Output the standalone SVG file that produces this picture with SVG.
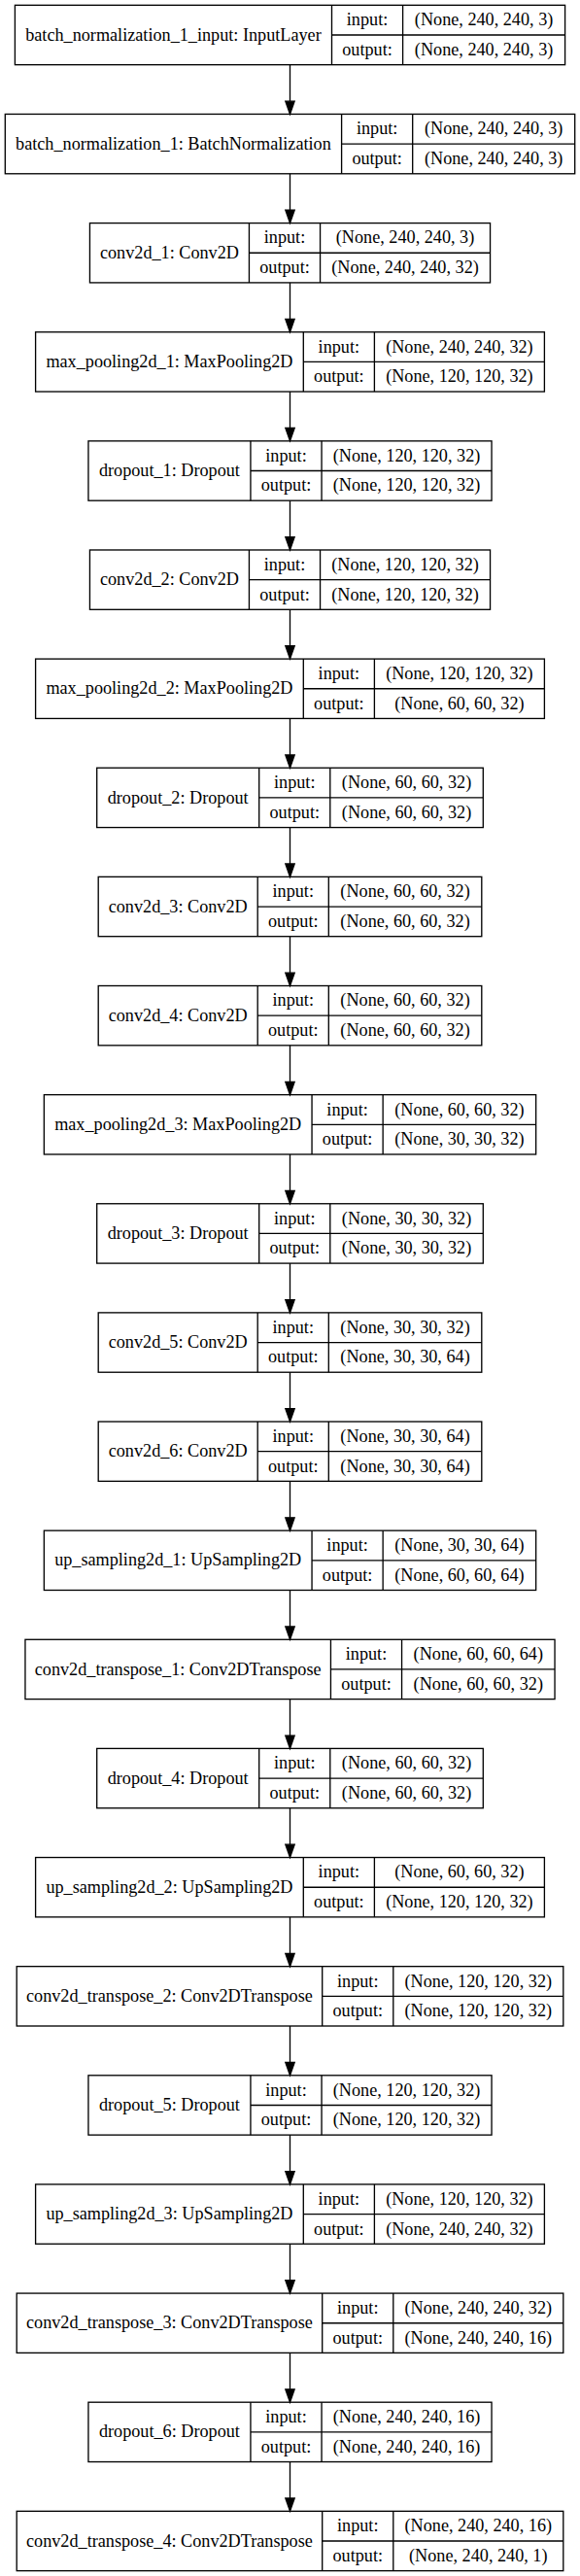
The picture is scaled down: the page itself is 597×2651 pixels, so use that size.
<svg xmlns="http://www.w3.org/2000/svg" width="597" height="2651" viewBox="0 0 597 2651">
<style>
.b{fill:none;stroke:#000;stroke-width:1.33}
text{font-family:"Liberation Serif","Times New Roman",serif;font-size:18.2px;text-anchor:middle;fill:#000}
.e{fill:none;stroke:#000;stroke-width:1.33;marker-end:url(#ah)}
</style>
<defs>
<marker id="ah" markerUnits="userSpaceOnUse" orient="auto" refX="0" refY="0" overflow="visible"><path d="M0,-4.67 L13.33,0 L0,4.67 Z" fill="#000" stroke="#000" stroke-width="1.33"/></marker>
</defs>
<rect width="597" height="2651" fill="#fff"/>
<g id="edges">
<path class="e" d="M298.5,66.66V104.13"/>
<path class="e" d="M298.5,178.79V216.26"/>
<path class="e" d="M298.5,290.92V328.39"/>
<path class="e" d="M298.5,403.05V440.52"/>
<path class="e" d="M298.5,515.18V552.65"/>
<path class="e" d="M298.5,627.31V664.78"/>
<path class="e" d="M298.5,739.44V776.91"/>
<path class="e" d="M298.5,851.57V889.04"/>
<path class="e" d="M298.5,963.7V1001.17"/>
<path class="e" d="M298.5,1075.83V1113.3"/>
<path class="e" d="M298.5,1187.96V1225.43"/>
<path class="e" d="M298.5,1300.09V1337.56"/>
<path class="e" d="M298.5,1412.22V1449.69"/>
<path class="e" d="M298.5,1524.35V1561.82"/>
<path class="e" d="M298.5,1636.48V1673.95"/>
<path class="e" d="M298.5,1748.61V1786.08"/>
<path class="e" d="M298.5,1860.74V1898.21"/>
<path class="e" d="M298.5,1972.87V2010.34"/>
<path class="e" d="M298.5,2085V2122.47"/>
<path class="e" d="M298.5,2197.13V2234.6"/>
<path class="e" d="M298.5,2309.26V2346.73"/>
<path class="e" d="M298.5,2421.39V2458.86"/>
<path class="e" d="M298.5,2533.52V2570.99"/>
</g>
<g id="n0" transform="translate(0,5.33)"><rect class="b" x="15.4" y="0" width="566.2" height="61.33"/><path class="b" d="M341.5,0V61.33M414.6,0V61.33M341.5,30.67H581.6"/><text x="178.45" y="36.3">batch_normalization_1_input: InputLayer</text><text x="378.05" y="20.9">input:</text><text x="378.05" y="51.6">output:</text><text x="498.1" y="20.9">(None, 240, 240, 3)</text><text x="498.1" y="51.6">(None, 240, 240, 3)</text></g>
<g id="n1" transform="translate(0,117.46)"><rect class="b" x="5.3" y="0" width="586.4" height="61.33"/><path class="b" d="M351.6,0V61.33M424.7,0V61.33M351.6,30.67H591.7"/><text x="178.45" y="36.3">batch_normalization_1: BatchNormalization</text><text x="388.15" y="20.9">input:</text><text x="388.15" y="51.6">output:</text><text x="508.2" y="20.9">(None, 240, 240, 3)</text><text x="508.2" y="51.6">(None, 240, 240, 3)</text></g>
<g id="n2" transform="translate(0,229.59)"><rect class="b" x="92.45" y="0" width="412.1" height="61.33"/><path class="b" d="M256.45,0V61.33M329.55,0V61.33M256.45,30.67H504.55"/><text x="174.45" y="36.3">conv2d_1: Conv2D</text><text x="293" y="20.9">input:</text><text x="293" y="51.6">output:</text><text x="417.05" y="20.9">(None, 240, 240, 3)</text><text x="417.05" y="51.6">(None, 240, 240, 32)</text></g>
<g id="n3" transform="translate(0,341.72)"><rect class="b" x="36.6" y="0" width="523.8" height="61.33"/><path class="b" d="M312.3,0V61.33M385.4,0V61.33M312.3,30.67H560.4"/><text x="174.45" y="36.3">max_pooling2d_1: MaxPooling2D</text><text x="348.85" y="20.9">input:</text><text x="348.85" y="51.6">output:</text><text x="472.9" y="20.9">(None, 240, 240, 32)</text><text x="472.9" y="51.6">(None, 120, 120, 32)</text></g>
<g id="n4" transform="translate(0,453.85)"><rect class="b" x="90.95" y="0" width="415.1" height="61.33"/><path class="b" d="M257.95,0V61.33M331.05,0V61.33M257.95,30.67H506.05"/><text x="174.45" y="36.3">dropout_1: Dropout</text><text x="294.5" y="20.9">input:</text><text x="294.5" y="51.6">output:</text><text x="418.55" y="20.9">(None, 120, 120, 32)</text><text x="418.55" y="51.6">(None, 120, 120, 32)</text></g>
<g id="n5" transform="translate(0,565.98)"><rect class="b" x="92.45" y="0" width="412.1" height="61.33"/><path class="b" d="M256.45,0V61.33M329.55,0V61.33M256.45,30.67H504.55"/><text x="174.45" y="36.3">conv2d_2: Conv2D</text><text x="293" y="20.9">input:</text><text x="293" y="51.6">output:</text><text x="417.05" y="20.9">(None, 120, 120, 32)</text><text x="417.05" y="51.6">(None, 120, 120, 32)</text></g>
<g id="n6" transform="translate(0,678.11)"><rect class="b" x="36.6" y="0" width="523.8" height="61.33"/><path class="b" d="M312.3,0V61.33M385.4,0V61.33M312.3,30.67H560.4"/><text x="174.45" y="36.3">max_pooling2d_2: MaxPooling2D</text><text x="348.85" y="20.9">input:</text><text x="348.85" y="51.6">output:</text><text x="472.9" y="20.9">(None, 120, 120, 32)</text><text x="472.9" y="51.6">(None, 60, 60, 32)</text></g>
<g id="n7" transform="translate(0,790.24)"><rect class="b" x="99.7" y="0" width="397.6" height="61.33"/><path class="b" d="M266.7,0V61.33M339.8,0V61.33M266.7,30.67H497.3"/><text x="183.2" y="36.3">dropout_2: Dropout</text><text x="303.25" y="20.9">input:</text><text x="303.25" y="51.6">output:</text><text x="418.55" y="20.9">(None, 60, 60, 32)</text><text x="418.55" y="51.6">(None, 60, 60, 32)</text></g>
<g id="n8" transform="translate(0,902.37)"><rect class="b" x="101.2" y="0" width="394.6" height="61.33"/><path class="b" d="M265.2,0V61.33M338.3,0V61.33M265.2,30.67H495.8"/><text x="183.2" y="36.3">conv2d_3: Conv2D</text><text x="301.75" y="20.9">input:</text><text x="301.75" y="51.6">output:</text><text x="417.05" y="20.9">(None, 60, 60, 32)</text><text x="417.05" y="51.6">(None, 60, 60, 32)</text></g>
<g id="n9" transform="translate(0,1014.5)"><rect class="b" x="101.2" y="0" width="394.6" height="61.33"/><path class="b" d="M265.2,0V61.33M338.3,0V61.33M265.2,30.67H495.8"/><text x="183.2" y="36.3">conv2d_4: Conv2D</text><text x="301.75" y="20.9">input:</text><text x="301.75" y="51.6">output:</text><text x="417.05" y="20.9">(None, 60, 60, 32)</text><text x="417.05" y="51.6">(None, 60, 60, 32)</text></g>
<g id="n10" transform="translate(0,1126.63)"><rect class="b" x="45.35" y="0" width="506.3" height="61.33"/><path class="b" d="M321.05,0V61.33M394.15,0V61.33M321.05,30.67H551.65"/><text x="183.2" y="36.3">max_pooling2d_3: MaxPooling2D</text><text x="357.6" y="20.9">input:</text><text x="357.6" y="51.6">output:</text><text x="472.9" y="20.9">(None, 60, 60, 32)</text><text x="472.9" y="51.6">(None, 30, 30, 32)</text></g>
<g id="n11" transform="translate(0,1238.76)"><rect class="b" x="99.7" y="0" width="397.6" height="61.33"/><path class="b" d="M266.7,0V61.33M339.8,0V61.33M266.7,30.67H497.3"/><text x="183.2" y="36.3">dropout_3: Dropout</text><text x="303.25" y="20.9">input:</text><text x="303.25" y="51.6">output:</text><text x="418.55" y="20.9">(None, 30, 30, 32)</text><text x="418.55" y="51.6">(None, 30, 30, 32)</text></g>
<g id="n12" transform="translate(0,1350.89)"><rect class="b" x="101.2" y="0" width="394.6" height="61.33"/><path class="b" d="M265.2,0V61.33M338.3,0V61.33M265.2,30.67H495.8"/><text x="183.2" y="36.3">conv2d_5: Conv2D</text><text x="301.75" y="20.9">input:</text><text x="301.75" y="51.6">output:</text><text x="417.05" y="20.9">(None, 30, 30, 32)</text><text x="417.05" y="51.6">(None, 30, 30, 64)</text></g>
<g id="n13" transform="translate(0,1463.02)"><rect class="b" x="101.2" y="0" width="394.6" height="61.33"/><path class="b" d="M265.2,0V61.33M338.3,0V61.33M265.2,30.67H495.8"/><text x="183.2" y="36.3">conv2d_6: Conv2D</text><text x="301.75" y="20.9">input:</text><text x="301.75" y="51.6">output:</text><text x="417.05" y="20.9">(None, 30, 30, 64)</text><text x="417.05" y="51.6">(None, 30, 30, 64)</text></g>
<g id="n14" transform="translate(0,1575.15)"><rect class="b" x="45.35" y="0" width="506.3" height="61.33"/><path class="b" d="M321.05,0V61.33M394.15,0V61.33M321.05,30.67H551.65"/><text x="183.2" y="36.3">up_sampling2d_1: UpSampling2D</text><text x="357.6" y="20.9">input:</text><text x="357.6" y="51.6">output:</text><text x="472.9" y="20.9">(None, 30, 30, 64)</text><text x="472.9" y="51.6">(None, 60, 60, 64)</text></g>
<g id="n15" transform="translate(0,1687.28)"><rect class="b" x="25.95" y="0" width="545.1" height="61.33"/><path class="b" d="M340.45,0V61.33M413.55,0V61.33M340.45,30.67H571.05"/><text x="183.2" y="36.3">conv2d_transpose_1: Conv2DTranspose</text><text x="377" y="20.9">input:</text><text x="377" y="51.6">output:</text><text x="492.3" y="20.9">(None, 60, 60, 64)</text><text x="492.3" y="51.6">(None, 60, 60, 32)</text></g>
<g id="n16" transform="translate(0,1799.41)"><rect class="b" x="99.7" y="0" width="397.6" height="61.33"/><path class="b" d="M266.7,0V61.33M339.8,0V61.33M266.7,30.67H497.3"/><text x="183.2" y="36.3">dropout_4: Dropout</text><text x="303.25" y="20.9">input:</text><text x="303.25" y="51.6">output:</text><text x="418.55" y="20.9">(None, 60, 60, 32)</text><text x="418.55" y="51.6">(None, 60, 60, 32)</text></g>
<g id="n17" transform="translate(0,1911.54)"><rect class="b" x="36.6" y="0" width="523.8" height="61.33"/><path class="b" d="M312.3,0V61.33M385.4,0V61.33M312.3,30.67H560.4"/><text x="174.45" y="36.3">up_sampling2d_2: UpSampling2D</text><text x="348.85" y="20.9">input:</text><text x="348.85" y="51.6">output:</text><text x="472.9" y="20.9">(None, 60, 60, 32)</text><text x="472.9" y="51.6">(None, 120, 120, 32)</text></g>
<g id="n18" transform="translate(0,2023.67)"><rect class="b" x="17.2" y="0" width="562.6" height="61.33"/><path class="b" d="M331.7,0V61.33M404.8,0V61.33M331.7,30.67H579.8"/><text x="174.45" y="36.3">conv2d_transpose_2: Conv2DTranspose</text><text x="368.25" y="20.9">input:</text><text x="368.25" y="51.6">output:</text><text x="492.3" y="20.9">(None, 120, 120, 32)</text><text x="492.3" y="51.6">(None, 120, 120, 32)</text></g>
<g id="n19" transform="translate(0,2135.8)"><rect class="b" x="90.95" y="0" width="415.1" height="61.33"/><path class="b" d="M257.95,0V61.33M331.05,0V61.33M257.95,30.67H506.05"/><text x="174.45" y="36.3">dropout_5: Dropout</text><text x="294.5" y="20.9">input:</text><text x="294.5" y="51.6">output:</text><text x="418.55" y="20.9">(None, 120, 120, 32)</text><text x="418.55" y="51.6">(None, 120, 120, 32)</text></g>
<g id="n20" transform="translate(0,2247.93)"><rect class="b" x="36.6" y="0" width="523.8" height="61.33"/><path class="b" d="M312.3,0V61.33M385.4,0V61.33M312.3,30.67H560.4"/><text x="174.45" y="36.3">up_sampling2d_3: UpSampling2D</text><text x="348.85" y="20.9">input:</text><text x="348.85" y="51.6">output:</text><text x="472.9" y="20.9">(None, 120, 120, 32)</text><text x="472.9" y="51.6">(None, 240, 240, 32)</text></g>
<g id="n21" transform="translate(0,2360.06)"><rect class="b" x="17.2" y="0" width="562.6" height="61.33"/><path class="b" d="M331.7,0V61.33M404.8,0V61.33M331.7,30.67H579.8"/><text x="174.45" y="36.3">conv2d_transpose_3: Conv2DTranspose</text><text x="368.25" y="20.9">input:</text><text x="368.25" y="51.6">output:</text><text x="492.3" y="20.9">(None, 240, 240, 32)</text><text x="492.3" y="51.6">(None, 240, 240, 16)</text></g>
<g id="n22" transform="translate(0,2472.19)"><rect class="b" x="90.95" y="0" width="415.1" height="61.33"/><path class="b" d="M257.95,0V61.33M331.05,0V61.33M257.95,30.67H506.05"/><text x="174.45" y="36.3">dropout_6: Dropout</text><text x="294.5" y="20.9">input:</text><text x="294.5" y="51.6">output:</text><text x="418.55" y="20.9">(None, 240, 240, 16)</text><text x="418.55" y="51.6">(None, 240, 240, 16)</text></g>
<g id="n23" transform="translate(0,2584.32)"><rect class="b" x="17.2" y="0" width="562.6" height="61.33"/><path class="b" d="M331.7,0V61.33M404.8,0V61.33M331.7,30.67H579.8"/><text x="174.45" y="36.3">conv2d_transpose_4: Conv2DTranspose</text><text x="368.25" y="20.9">input:</text><text x="368.25" y="51.6">output:</text><text x="492.3" y="20.9">(None, 240, 240, 16)</text><text x="492.3" y="51.6">(None, 240, 240, 1)</text></g>
</svg>
